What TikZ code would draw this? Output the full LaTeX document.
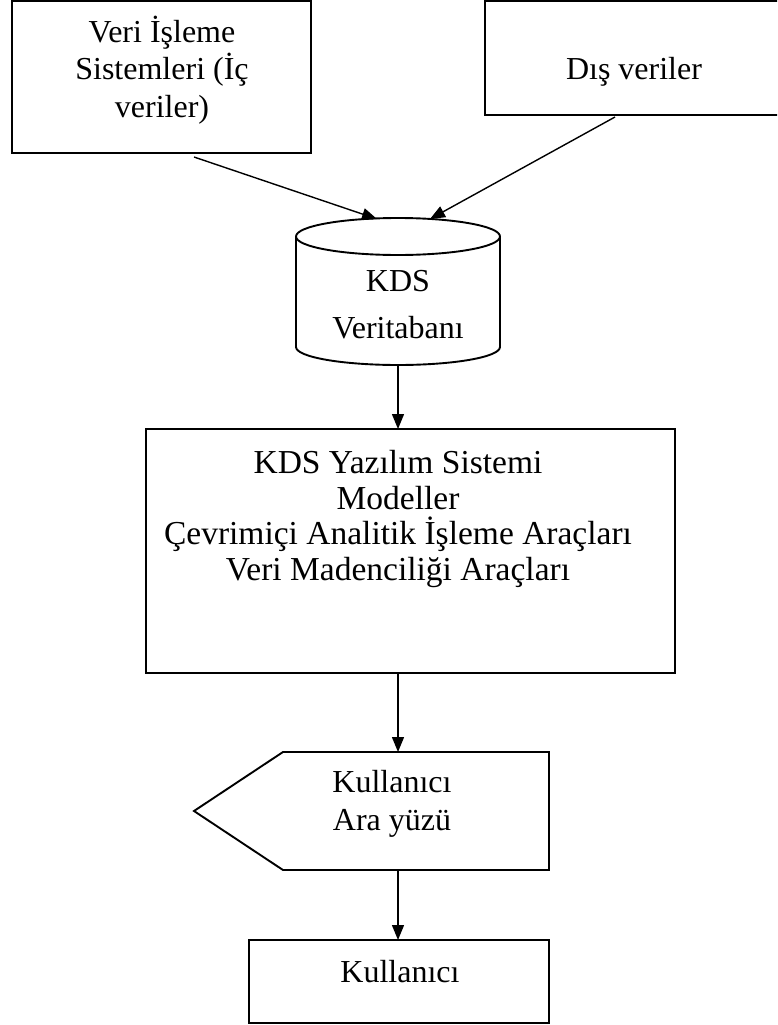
\documentclass[tikz,border=0pt]{standalone}
\usepackage{fontspec}
\setmainfont{Liberation Serif}
\usetikzlibrary{arrows.meta}
\begin{document}
\begin{tikzpicture}[x=1pt,y=-1pt,
  frame/.style={draw=black,line width=1.9pt,inner sep=0pt},
  label/.style={align=center,inner sep=0pt,font=\fontsize{32}{37}\selectfont},
  flow/.style={draw=black,line width=1.4pt,-{Triangle[length=15pt,width=12pt]}}]
\useasboundingbox (0,0) rectangle (777,1025);
\clip (0,0) rectangle (777,1025);

% source boxes
\node[frame,minimum width=299pt,minimum height=152pt] (src) at (161.5,77) {};
\node[label,anchor=base] (srctxt) at (162,117) {Veri İşleme\\Sistemleri (İç\\veriler)};
\node[frame,minimum width=320pt,minimum height=114pt] (ext) at (645,58) {};
\node[label,anchor=base] (exttxt) at (634,80) {Dış veriler};

% database cylinder
\node[minimum width=204pt,minimum height=147pt,inner sep=0pt] (db) at (398,291.5) {};
\draw[line width=1.9pt]
  (296,236.5) -- (296,347) arc[start angle=180,end angle=360,x radius=102,y radius=-18]
  -- (500,236.5) arc[start angle=0,end angle=360,x radius=102,y radius=-18.5];
\node[label,anchor=base] (dbtxt) at (398,338) {KDS\\[10pt]Veritabanı};
\coordinate (dbinL) at (377,219);
\coordinate (dbinR) at (430,219);
\coordinate (srcout) at (194,157);
\coordinate (extout) at (615,117);

% software system
\node[frame,minimum width=529pt,minimum height=244pt] (sw) at (410.5,551) {};
\node[label,anchor=base,font=\fontsize{33.5}{35.5}\selectfont] (swtxt) at (398,580)
  {KDS Yazılım Sistemi\\Modeller\\Çevrimiçi Analitik İşleme Araçları\\Veri Madenciliği Araçları};

% user interface (display shape)
\node[minimum width=355pt,minimum height=118pt,inner sep=0pt] (ui) at (371.5,811) {};
\draw[line width=1.9pt] (283,752) -- (549,752) -- (549,870) -- (283,870) -- (194,811) -- cycle;
\node[label,anchor=base] (uitxt) at (392,830) {Kullanıcı\\[1pt]Ara yüzü};

% user
\node[frame,minimum width=300pt,minimum height=83pt] (usr) at (399,981.5) {};
\node[label,anchor=base] (usrtxt) at (400,982) {Kullanıcı};

% connectors
\draw[flow] (srcout) -- (dbinL);
\draw[flow] (extout) -- (dbinR);
\draw[flow] (398,365) -- (398,429);
\draw[flow] (398,673) -- (398,752);
\draw[flow] (398,870) -- (398,940);
\end{tikzpicture}
\end{document}
